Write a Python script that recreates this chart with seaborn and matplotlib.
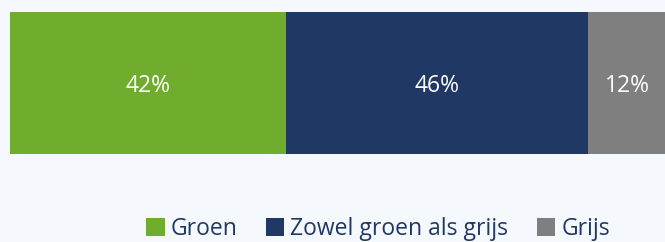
import numpy as np
import pandas as pd
import seaborn as sns
import matplotlib.pyplot as plt
from matplotlib.patches import Patch

categories = ['Groen', 'Zowel groen als grijs', 'Grijs']
values = [42, 46, 12]
colors = ['#70AD2F', '#203864', '#7F7F7F']
bg = '#F5F8FC'

sns.set_theme(style='white')
plt.rcParams['font.family'] = ['Open Sans', 'DejaVu Sans']

fig = plt.figure(figsize=(6.65, 2.42), dpi=100, facecolor=bg)
ax = fig.add_axes([10 / 665, 88 / 242, 657 / 665, 142 / 242])
ax.set_facecolor(bg)

# stacked bar: draw cumulative totals back to front
cum = np.cumsum(values)
for cat, total, col in reversed(list(zip(categories, cum, colors))):
    df = pd.DataFrame({'row': [''], 'value': [total]})
    sns.barplot(data=df, x='value', y='row', color=col, width=1.0,
                saturation=1, ax=ax, edgecolor='none')

starts = cum - np.array(values)
for s, v in zip(starts, values):
    ax.text(s + v / 2, 0.02, f'{v}%', ha='center', va='center',
            color='white', fontsize=16.5)

ax.set_xlim(0, 100)
ax.set_ylim(0.5, -0.5)
ax.axis('off')

handles = [Patch(facecolor=c, edgecolor='none', label=l) for c, l in zip(colors, categories)]
fig.legend(handles=handles, loc='center', bbox_to_anchor=(378 / 665, 1 - 229 / 242),
           ncol=3, frameon=False, fontsize=16.5, handlelength=0.8, handleheight=0.8,
           handletextpad=0.26, columnspacing=1.25, labelcolor='#1F3864',
           borderpad=0, borderaxespad=0)

fig.savefig('out.png', dpi=100, facecolor=bg)
